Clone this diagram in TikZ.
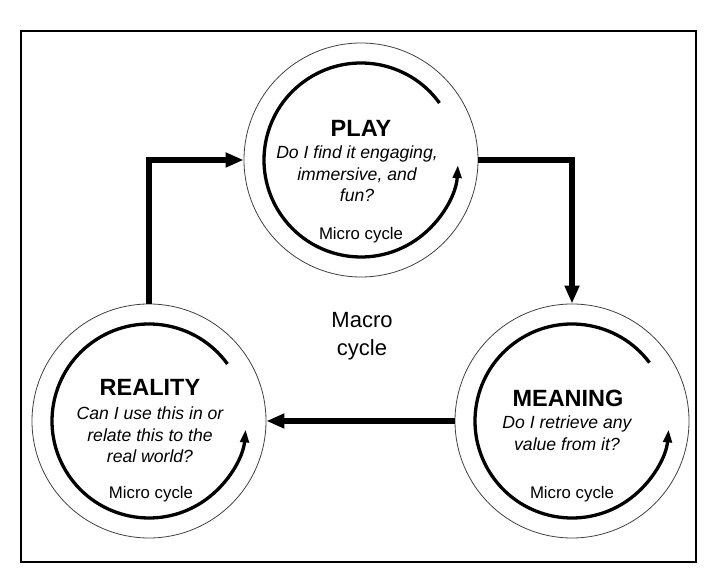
\documentclass[tikz,border=0pt]{standalone}
\usepackage{fontspec}
\setmainfont{Liberation Sans}
\usetikzlibrary{arrows.meta}
\tikzset{
  stage/.style={circle,draw=black!75,line width=0.8pt,minimum size=234pt,inner sep=0pt},
  micro/.style={line width=3.3pt,-{Triangle[length=13pt,width=8.5pt]}},
  flow/.style={line width=6pt,-{Triangle[length=18pt,width=14pt]}},
  title/.style={font=\fontsize{23.5}{27}\selectfont\bfseries},
  question/.style={font=\fontsize{17.6}{21.5}\selectfont\itshape,align=center},
  microlabel/.style={font=\fontsize{16.8}{19}\selectfont},
  macrolabel/.style={font=\fontsize{22}{28}\selectfont,align=center}
}
\begin{document}
\begin{tikzpicture}[line cap=butt,line join=miter,x=1pt,y=1pt]
		\useasboundingbox (0,0) rectangle (709,577);
		\draw[line width=1.5pt] (21,15) rectangle (696,546);
		% the three stages
		\node[stage] (play) at (361,417) {};
		\node[stage] (reality) at (149,156) {};
		\node[stage] (meaning) at (572,156) {};
		% micro cycles
		\draw[micro] (play.center) ++(36:97pt) arc[start angle=36,end angle=357,radius=97pt];
		\draw[micro] (reality.center) ++(36:97pt) arc[start angle=36,end angle=355,radius=97pt];
		\draw[micro] (meaning.center) ++(37:97pt) arc[start angle=37,end angle=355,radius=97pt];
		% macro cycle
		\draw[flow] (play.east) -| (meaning.north);
		\draw[flow] (meaning.west) -- (reality.east);
		\draw[flow] (reality.north) |- (play.west);
		% texts
		\node[title] (playtitle) at (361,449) {PLAY};
		\node[question] (playq) at (357,403) {Do I find it engaging,\\immersive, and\\fun?};
		\node[microlabel] (playmicro) at (361,342) {Micro cycle};
		\node[title] (realitytitle) at (150,190) {REALITY};
		\node[question] (realityq) at (150,142) {Can I use this in or\\relate this to the\\real world?};
		\node[microlabel] (realitymicro) at (151,83) {Micro cycle};
		\node[title] (meaningtitle) at (568,179) {MEANING};
		\node[question] (meaningq) at (567,144) {Do I retrieve any\\value from it?};
		\node[microlabel] (meaningmicro) at (572,83) {Micro cycle};
		\node[macrolabel] (macro) at (362,241) {Macro\\cycle};
\end{tikzpicture}
\end{document}
